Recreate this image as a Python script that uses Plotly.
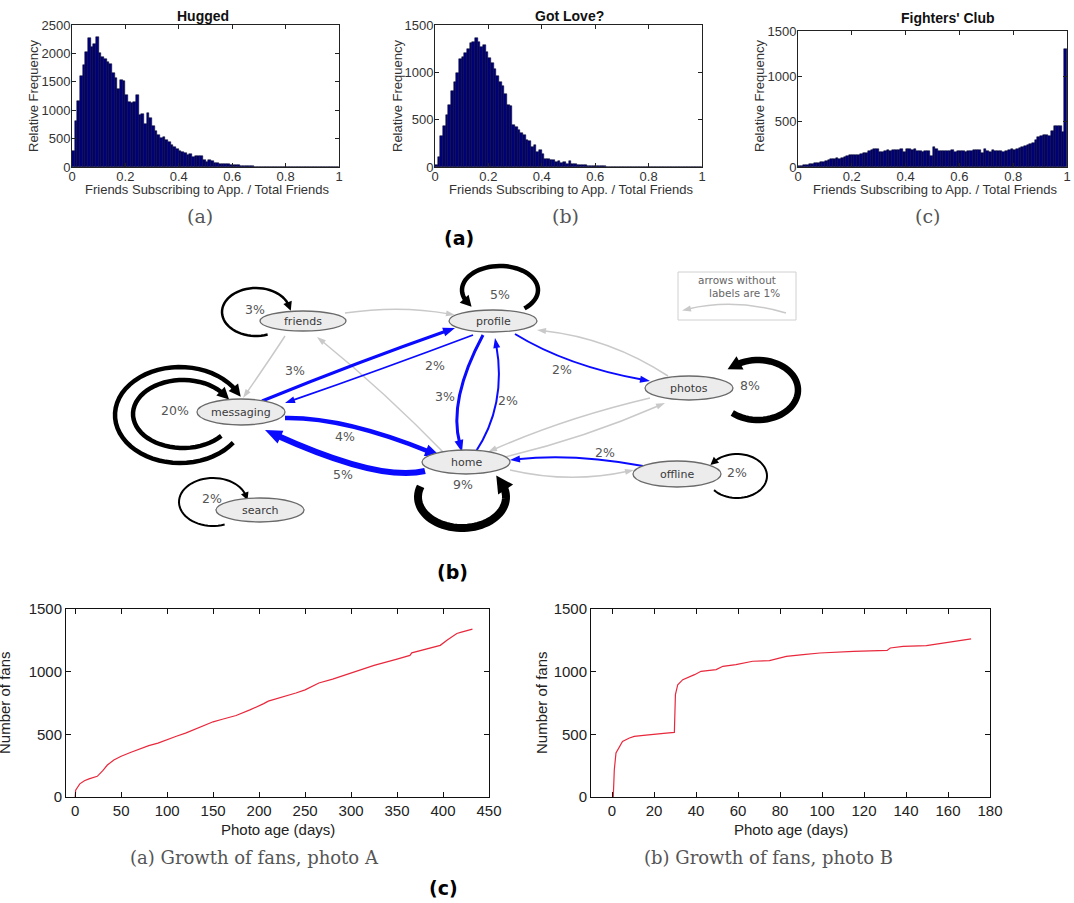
import math
import plotly.graph_objects as go

W, H = 1074, 903

# ---------------- data ----------------
bin_centers = [(i + 0.5) / 100 for i in range(100)]
hist_ticks = [0, 0.2, 0.4, 0.6, 0.8, 1]

hugged = [290, 810, 1170, 1610, 1790, 2030, 2280, 2120, 2160, 2290,
          2000, 1930, 1910, 1850, 1820, 1650, 1560, 1380, 1540, 1520,
          1260, 1150, 1120, 1150, 1260, 910, 940, 760, 950, 870,
          720, 630, 570, 510, 530, 480, 440, 380, 350, 320,
          280, 265, 245, 205, 235, 175, 185, 195, 190, 130,
          90, 118, 105, 75, 65, 60, 55, 50, 45, 40,
          36, 32, 28, 25, 20, 16, 13, 10, 7, 4, 2]
got_love = [18, 106, 325, 430, 547, 660, 800, 900, 988, 1137,
            1165, 1207, 1242, 1306, 1324, 1366, 1324, 1271, 1288, 1218,
            1147, 1094, 1030, 960, 900, 854, 770, 653, 642, 441,
            424, 388, 360, 335, 282, 275, 212, 229, 159, 184,
            134, 85, 88, 78, 71, 53, 60, 46, 53, 35,
            64, 35, 30, 26, 23, 20, 18, 15, 13, 12,
            10, 9, 8, 6, 5, 5, 4, 3, 2, 2]
fighters = [7, 11, 18, 26, 30, 37, 40, 48, 55, 58,
            67, 78, 85, 92, 100, 88, 95, 111, 122, 130,
            132, 130, 133, 148, 159, 152, 174, 185, 196, 198,
            160, 167, 174, 189, 181, 183, 189, 185, 204, 167,
            196, 196, 189, 196, 181, 174, 167, 174, 181, 122,
            218, 204, 178, 181, 178, 181, 181, 189, 167, 181,
            174, 181, 167, 174, 181, 189, 189, 189, 159, 196,
            174, 167, 189, 181, 181, 181, 167, 181, 189, 196,
            190, 200, 215, 225, 235, 240, 250, 265, 300, 335,
            340, 350, 350, 340, 400, 455, 455, 455, 390, 1300]
hugged = hugged + [0] * (100 - len(hugged))
got_love = got_love + [0] * (100 - len(got_love))

a_days = [0, 0.5, 5, 10, 15, 24, 30, 35, 42, 50, 60, 70, 80, 90, 100, 110, 120,
          130, 140, 150, 160, 175, 190, 200, 205, 210, 225, 240, 250, 265, 280,
          300, 325, 350, 364, 366, 380, 397, 405, 415, 420, 432]
a_fans = [0, 55, 105, 130, 145, 165, 210, 255, 295, 325, 355, 385, 410, 430, 460,
          485, 510, 540, 570, 600, 620, 650, 695, 725, 745, 765, 795, 830, 855,
          910, 940, 990, 1050, 1100, 1130, 1150, 1175, 1210, 1255, 1305, 1315, 1340]
b_days = [0.6, 0.8, 1.1, 1.9, 2.7, 5, 8.3, 10.6, 15, 19.4, 25.8, 29.7, 30.2, 31.3,
          33.7, 39.3, 42.4, 49.6, 52.8, 59, 67, 75, 83, 91, 99, 115, 131, 132.5,
          138.6, 149.7, 159, 171]
b_fans = [0, 120, 218, 351, 378, 444, 471, 484, 492, 497, 510, 516, 817, 896, 936,
          976, 1003, 1016, 1043, 1056, 1083, 1088, 1122, 1136, 1149, 1162, 1170,
          1189, 1202, 1208, 1229, 1261]

# network: nodes, self-loop shares, edges (source, target, label)
nodes = ["friends", "profile", "messaging", "home", "search", "photos", "offline"]
self_loops = {"friends": "3%", "profile": "5%", "messaging": "20%", "home": "9%",
              "search": "2%", "photos": "8%", "offline": "2%"}
edges = [
    ("friends", "profile", ""), ("friends", "messaging", ""), ("home", "friends", ""),
    ("photos", "profile", ""), ("photos", "home", ""), ("home", "photos", ""),
    ("home", "offline", ""),
    ("messaging", "profile", "3%"), ("profile", "messaging", "2%"),
    ("messaging", "home", "4%"), ("home", "messaging", "5%"),
    ("profile", "home", "3%"), ("home", "profile", "2%"),
    ("profile", "photos", "2%"), ("offline", "home", "2%"),
]

# ---------------- layout geometry (pixel space) ----------------
node_pos = {"friends": (303, 321, 43, 10), "profile": (493, 321, 44, 11),
            "messaging": (241, 412, 44, 13), "home": (466, 462, 44, 12),
            "search": (260, 510, 44, 12), "photos": (689, 388, 44, 12),
            "offline": (677, 474, 44, 13)}
# center, rx, ry, t0, t1, width, arrow length, arrow width, label pos
loop_geo = {
    "friends": [((256, 312), 34, 24, 70, 345, 2.5, 9, 9, (255, 309))],
    "profile": [((500, 290), 38, 24, 50, -210, 4.5, 11, 12, (500, 294))],
    "messaging": [((180, 415), 65, 48, 35, 330, 4.5, 12, 12, (175, 410)),
                  ((183, 414), 50, 34, 40, 325, 4.5, 12, 12, None)],
    "home": [((462, 497), 44, 31, 200, -25, 8, 17, 18, (463, 484))],
    "search": [((213, 502), 34, 24, 70, 345, 2, 8, 8, (212, 498))],
    "photos": [((758, 390), 40, 30, 130, -125, 6.5, 14, 15, (750, 385))],
    "offline": [((737, 476), 30, 22, 140, -140, 2, 8, 8, (737, 472))],
}
# start, control, end, width, arrow L, arrow W, label position
edge_geo = {
    ("friends", "profile"): ((345, 313), (400, 305), (455, 315), 1.5, 9, 6, None),
    ("friends", "messaging"): ((285, 336), (268, 362), (243, 398), 1.5, 9, 6, None),
    ("home", "friends"): ((446, 455), (385, 392), (317, 337), 1.5, 9, 6, None),
    ("photos", "profile"): ((668, 376), (610, 338), (537, 330), 1.5, 9, 6, None),
    ("photos", "home"): ((650, 398), (565, 418), (488, 452), 1.5, 9, 6, None),
    ("home", "photos"): ((500, 458), (580, 440), (665, 403), 1.5, 9, 6, None),
    ("home", "offline"): ((510, 470), (570, 484), (634, 470), 1.5, 9, 6, None),
    ("messaging", "profile"): ((262, 401), (358, 362), (455, 328), 3, 12, 9, (295, 370)),
    ("profile", "messaging"): ((473, 335), (380, 370), (285, 403), 1.8, 10, 7, (435, 365)),
    ("messaging", "home"): ((285, 418), (344, 417), (440, 456), 4.5, 15, 12, (345, 436)),
    ("home", "messaging"): ((425, 471), (380, 482), (265, 430), 6, 17, 14, (343, 474)),
    ("profile", "home"): ((483, 335), (448, 400), (462, 452), 3, 12, 9, (445, 396)),
    ("home", "profile"): ((475, 453), (507, 405), (495, 338), 2, 10, 7, (508, 400)),
    ("profile", "photos"): ((515, 334), (567, 366), (650, 381), 2, 10, 7, (562, 369)),
    ("offline", "home"): ((643, 466), (574, 453), (510, 460), 2, 10, 7, (605, 452)),
}

BLUE = "#0a0aff"
GRAY = "#c9c9c9"
NAVY = "#00007a"
RED = "#e8283c"
SANS = "Liberation Sans, Arial, sans-serif"
SERIF = "DejaVu Serif, serif"

fig = go.Figure()


def dx(a, b):
    return [a / W, b / W]


def dy(top, bottom):
    return [1 - bottom / H, 1 - top / H]


# ---------------- histograms ----------------
hists = [(hugged, "", 2500), (got_love, "2", 1500), (fighters, "3", 1500)]
hist_dom = [((72, 339), (25, 167)), ((435, 702), (25, 167)), ((798, 1067), (31, 167))]
for (vals, sfx, ymax), (xd, yd) in zip(hists, hist_dom):
    fig.add_trace(go.Bar(x=bin_centers, y=vals, width=0.01,
                         marker=dict(color=NAVY, line=dict(color="#000020", width=0.5)),
                         xaxis="x" + sfx, yaxis="y" + sfx, showlegend=False))
    common = dict(showline=True, linecolor="#222", linewidth=1, mirror="allticks",
                  ticks="inside", ticklen=4, tickcolor="#222", showgrid=False,
                  zeroline=False, automargin=False,
                  tickfont=dict(family=SANS, size=13, color="#333"))
    fig.update_layout(**{
        "xaxis" + sfx: dict(domain=dx(*xd), range=[0, 1], tickvals=hist_ticks,
                            anchor="y" + sfx, ticklabelstandoff=-3, **common),
        "yaxis" + sfx: dict(domain=dy(*yd), range=[0, ymax], dtick=500,
                            anchor="x" + sfx, ticklabelstandoff=-2, **common),
    })

# ---------------- line charts ----------------
line_sets = [(a_days, a_fans, "5", (66, 489), [-10, 450], 50),
             (b_days, b_fans, "6", (591, 990), [-10, 180], 20)]
for xs, ys, sfx, xd, xr, dt in line_sets:
    fig.add_trace(go.Scatter(x=xs, y=ys, mode="lines", line=dict(color=RED, width=1.2),
                             xaxis="x" + sfx, yaxis="y" + sfx, showlegend=False))
    common = dict(showline=True, linecolor="#111", linewidth=1, mirror="allticks",
                  ticks="inside", ticklen=5, tickcolor="#111", showgrid=False,
                  zeroline=False, automargin=False,
                  tickfont=dict(family=SANS, size=15, color="#222"))
    fig.update_layout(**{
        "xaxis" + sfx: dict(domain=dx(*xd), range=xr, tick0=0, dtick=dt,
                            anchor="y" + sfx, **common),
        "yaxis" + sfx: dict(domain=dy(609, 797), range=[0, 1500], dtick=500,
                            anchor="x" + sfx, **common),
    })

# ---------------- overlay pixel axis for diagram & text ----------------
fig.update_layout(
    xaxis4=dict(domain=[0, 1], range=[0, W], visible=False, anchor="y4",
                fixedrange=True, automargin=False),
    yaxis4=dict(domain=[0, 1], range=[H, 0], visible=False, anchor="x4",
                fixedrange=True, automargin=False),
)
fig.add_trace(go.Scatter(x=[0, W], y=[0, H], mode="markers", marker=dict(opacity=0),
                         xaxis="x4", yaxis="y4", showlegend=False, hoverinfo="skip"))

shapes = []
annots = []


def P(x, y):
    return f"{x:.2f},{y:.2f}"


def head(tip, d, L, Wd, color):
    ux, uy = d
    nx, ny = -uy, ux
    bx, by = tip[0] - ux * L, tip[1] - uy * L
    path = (f"M {P(*tip)} L {P(bx + nx * Wd / 2, by + ny * Wd / 2)} "
            f"L {P(bx - nx * Wd / 2, by - ny * Wd / 2)} Z")
    shapes.append(dict(type="path", path=path, xref="x4", yref="y4",
                       fillcolor=color, line=dict(width=0), layer="above"))


def unit(vx, vy):
    n = math.hypot(vx, vy)
    return vx / n, vy / n


def text(x, y, s, size, color="#555", family="DejaVu Sans, sans-serif", bold=False,
         angle=0):
    if bold:
        s = "<b>" + s + "</b>"
    annots.append(dict(x=x, y=y, xref="x4", yref="y4", text=s, showarrow=False,
                       textangle=angle, xanchor="center", yanchor="middle",
                       font=dict(size=size, color=color, family=family)))


# edges
for src, dst, lab in edges:
    A, Q, C, wdt, L, Wd, lp = edge_geo[(src, dst)]
    color = GRAY if lab == "" else BLUE
    d = unit(C[0] - Q[0], C[1] - Q[1])
    C2 = (C[0] - d[0] * L * 0.7, C[1] - d[1] * L * 0.7)
    shapes.append(dict(type="path", path=f"M {P(*A)} Q {P(*Q)} {P(*C2)}",
                       xref="x4", yref="y4", line=dict(color=color, width=wdt),
                       fillcolor="rgba(0,0,0,0)", layer="above"))
    head(C, d, L, Wd, color)
    if lab:
        text(lp[0], lp[1], lab, 12.5)

# self loops
for name in nodes:
    for (c, rx, ry, t0, t1, wdt, L, Wd, lp) in loop_geo[name]:
        n = 48
        pts = []
        for k in range(n + 1):
            t = math.radians(t0 + (t1 - t0) * k / n)
            pts.append((c[0] + rx * math.cos(t), c[1] + ry * math.sin(t)))
        sgn = 1 if t1 > t0 else -1
        te = math.radians(t1)
        d = unit(-rx * math.sin(te) * sgn, ry * math.cos(te) * sgn)
        tip = (pts[-1][0] + d[0] * L * 0.6, pts[-1][1] + d[1] * L * 0.6)
        path = "M " + " L ".join(P(*p) for p in pts)
        shapes.append(dict(type="path", path=path, xref="x4", yref="y4",
                           line=dict(color="black", width=wdt),
                           fillcolor="rgba(0,0,0,0)", layer="above"))
        head(tip, d, L, Wd, "black")
        if lp:
            text(lp[0], lp[1], self_loops[name], 12.5)

# nodes
for name in nodes:
    x, y, rx, ry = node_pos[name]
    shapes.append(dict(type="circle", xref="x4", yref="y4", x0=x - rx, x1=x + rx,
                       y0=y - ry, y1=y + ry, fillcolor="#ececec",
                       line=dict(color="#6a6a6a", width=1.3), layer="above"))
    text(x, y, name, 11, color="#3a3a3a")

# legend box of diagram
shapes.append(dict(type="rect", xref="x4", yref="y4", x0=678, x1=796, y0=272, y1=320,
                   line=dict(color="#d0d0d0", width=1), fillcolor="rgba(0,0,0,0)",
                   layer="above"))
text(737, 280, "arrows without", 10.5, color="#666")
text(744, 293, "labels are 1%", 10.5, color="#666")
lq = unit(683 - 735, 310 - 298)
shapes.append(dict(type="path", path=f"M {P(786, 313)} Q {P(735, 298)} {P(688, 309)}",
                   xref="x4", yref="y4", line=dict(color=GRAY, width=1.5),
                   fillcolor="rgba(0,0,0,0)", layer="above"))
head((682, 310.5), lq, 9, 6, GRAY)

# ---------------- figure texts ----------------
hist_titles = [("Hugged", 203, 16), ("Got Love?", 569, 16), ("Fighters' Club", 948, 18)]
for s, x, y in hist_titles:
    text(x, y, s, 14, color="#111", family=SANS, bold=True)
for x in [33, 397, 759]:
    text(x, 96, "Relative Frequency", 13, color="#333", family=SANS, angle=-90)
for x in [207, 571, 935]:
    text(x, 189, "Friends Subscribing to App. / Total Friends", 13, color="#333",
         family=SANS)
for s, x in [("(a)", 200), ("(b)", 565), ("(c)", 927)]:
    text(x, 216, s, 19, color="#555", family=SERIF)

text(459, 238, "(a)", 19, color="#000", family="DejaVu Sans, sans-serif", bold=True)
text(452, 572, "(b)", 19, color="#000", family="DejaVu Sans, sans-serif", bold=True)
text(443, 888, "(c)", 19, color="#000", family="DejaVu Sans, sans-serif", bold=True)

text(4, 703, "Number of fans", 15, color="#222", family=SANS, angle=-90)
text(541, 703, "Number of fans", 15, color="#222", family=SANS, angle=-90)
text(278, 829, "Photo age (days)", 15, color="#222", family=SANS)
text(791, 829, "Photo age (days)", 15, color="#222", family=SANS)
text(254, 857, "(a) Growth of fans, photo A", 18, color="#555", family=SERIF)
text(768, 857, "(b) Growth of fans, photo B", 18, color="#555", family=SERIF)

fig.update_layout(width=W, height=H,
                  margin=dict(l=0, r=0, t=0, b=0, pad=0, autoexpand=False),
                  paper_bgcolor="white", plot_bgcolor="rgba(0,0,0,0)", bargap=0,
                  shapes=shapes, annotations=annots, showlegend=False)

fig.write_html("out.html", config={"displayModeBar": False},
               post_script="document.body.style.margin='0px';")
